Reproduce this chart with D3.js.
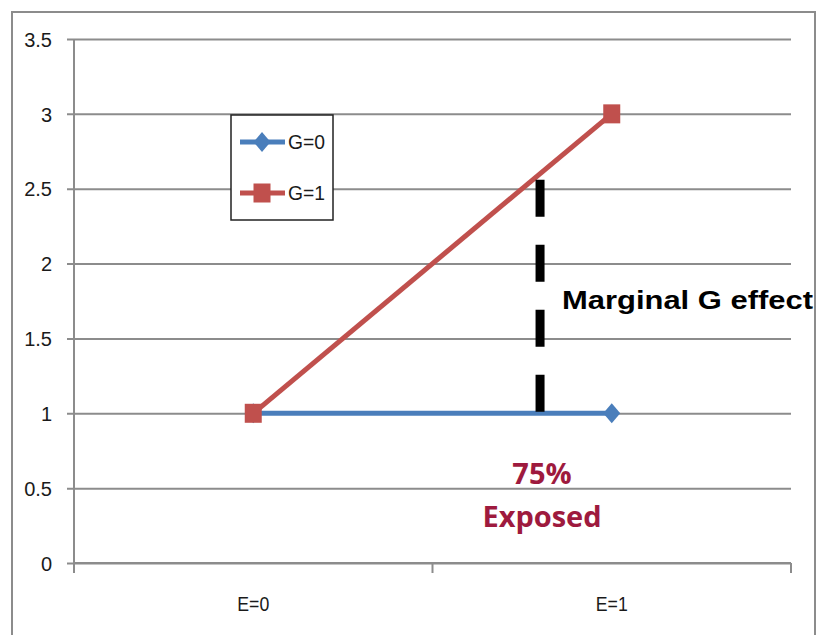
<!DOCTYPE html>
<html>
<head>
<meta charset="utf-8">
<script src="https://cdn.jsdelivr.net/npm/d3@7"></script>
<style>
  html, body { margin: 0; padding: 0; background: #fff; }
  svg { display: block; }
</style>
</head>
<body>
<svg id="chart" width="822" height="635"></svg>
<script>
// ---- data ----
const categories = ["E=0", "E=1"];
const seriesNames = ["G=0", "G=1"];
const g0Values = [1, 1];
const g1Values = [1, 3];
const yTicks = [0, 0.5, 1, 1.5, 2, 2.5, 3, 3.5];
const yTickLabels = ["0", "0.5", "1", "1.5", "2", "2.5", "3", "3.5"];
const yDomain = [0, 3.5];
// marginal effect annotation: position along E (0..1) and y range
const effectE = [0.8];
const effectRange = [1, 2.56];
const effectLabel = "Marginal G effect";
const exposedLabel = ["75%", "Exposed"];

const colors = { "G=0": "#4A7EBB", "G=1": "#C0504D" };
const tickFont = "'Liberation Sans', Arial, sans-serif";
const tickSize = "20px";

const svg = d3.select("#chart");

// outer frame
svg.append("path")
  .attr("d", "M12,640 L12,12 L815,12 L815,640")
  .attr("fill", "none").attr("stroke", "#8c8c8c").attr("stroke-width", 2);

const plot = { left: 74, right: 791, top: 39, bottom: 563 };

const x = d3.scaleBand().domain(categories).range([plot.left, plot.right]).padding(0);
const xc = c => x(c) + x.bandwidth() / 2;
const y = d3.scaleLinear().domain(yDomain).range([plot.bottom, plot.top]);

// gridlines + y axis
const yAxis = d3.axisLeft(y).tickValues(yTicks)
  .tickSize(-(plot.right - plot.left))
  .tickFormat((d, i) => yTickLabels[i]);
const gy = svg.append("g").attr("transform", `translate(${plot.left},0)`).call(yAxis);
gy.select(".domain").remove();
gy.selectAll(".tick line").attr("stroke", "#8c8c8c").attr("stroke-width", 2)
  .attr("x1", -7);
gy.selectAll(".tick text").attr("x", -22).attr("dy", "0.36em")
  .attr("fill", "#1a1a1a").style("font-family", tickFont).style("font-size", tickSize);
// y axis line
svg.append("line").attr("x1", plot.left).attr("x2", plot.left)
  .attr("y1", plot.top).attr("y2", plot.bottom + 10)
  .attr("stroke", "#8c8c8c").attr("stroke-width", 2);

// x axis
const xAxis = d3.axisBottom(x).tickSize(0).tickPadding(0);
const gx = svg.append("g").attr("transform", `translate(0,${plot.bottom})`).call(xAxis);
gx.select(".domain").remove();
gx.selectAll(".tick text").attr("y", 41).attr("dy", "0.36em")
  .attr("fill", "#1a1a1a").style("font-family", tickFont).style("font-size", tickSize)
  .attr("textLength", 32).attr("lengthAdjust", "spacingAndGlyphs");
// x boundary ticks
const bounds = [x(categories[0]), ...categories.map(c => x(c) + x.bandwidth())];
svg.append("g").selectAll("line").data(bounds).join("line")
  .attr("x1", d => d).attr("x2", d => d)
  .attr("y1", plot.bottom).attr("y2", plot.bottom + 10)
  .attr("stroke", "#8c8c8c").attr("stroke-width", 2);
svg.append("line").attr("x1", plot.left).attr("x2", plot.right)
  .attr("y1", plot.bottom).attr("y2", plot.bottom)
  .attr("stroke", "#8c8c8c").attr("stroke-width", 2);

// series
const series = [
  { name: seriesNames[0], values: g0Values, marker: "diamond" },
  { name: seriesNames[1], values: g1Values, marker: "square" }
];
const line = d3.line().x((d, i) => xc(categories[i])).y(d => y(d));

function drawMarker(g, type, cx, cy, color) {
  if (type === "diamond") {
    g.append("path")
      .attr("d", `M${cx},${cy - 10} L${cx + 8.5},${cy} L${cx},${cy + 10} L${cx - 8.5},${cy} Z`)
      .attr("fill", color);
  } else {
    g.append("rect").attr("x", cx - 8.5).attr("y", cy - 9.5)
      .attr("width", 17).attr("height", 19).attr("fill", color);
  }
}

series.forEach(s => {
  svg.append("path").datum(s.values).attr("d", line)
    .attr("fill", "none").attr("stroke", colors[s.name]).attr("stroke-width", 5);
});
series.forEach(s => {
  const g = svg.append("g");
  s.values.forEach((v, i) => drawMarker(g, s.marker, xc(categories[i]), y(v), colors[s.name]));
});

// legend
const lg = svg.append("g");
lg.append("rect").attr("x", 231).attr("y", 115).attr("width", 102).attr("height", 105)
  .attr("fill", "#fff").attr("stroke", "#222").attr("stroke-width", 1.5);
series.forEach((s, i) => {
  const ly = 142 + i * 51;
  lg.append("line").attr("x1", 240).attr("x2", 285).attr("y1", ly).attr("y2", ly)
    .attr("stroke", colors[s.name]).attr("stroke-width", 5);
  drawMarker(lg, s.marker, 262, ly, colors[s.name]);
  lg.append("text").attr("x", 288).attr("y", ly).attr("dy", "0.36em")
    .attr("fill", "#1a1a1a").style("font-family", tickFont).style("font-size", tickSize)
    .attr("textLength", 37).attr("lengthAdjust", "spacingAndGlyphs")
    .text(s.name);
});

// marginal effect dashed line
const ex = xc(categories[0]) + effectE[0] * (xc(categories[1]) - xc(categories[0]));
svg.append("line").attr("x1", ex).attr("x2", ex)
  .attr("y1", y(effectRange[1])).attr("y2", y(effectRange[0]))
  .attr("stroke", "#000").attr("stroke-width", 9).attr("stroke-dasharray", "37,28");

svg.append("text").attr("x", 562).attr("y", 309)
  .attr("textLength", 251).attr("lengthAdjust", "spacingAndGlyphs")
  .style("font-family", "'Liberation Sans', Arial, sans-serif").style("font-weight", "bold")
  .style("font-size", "26px").attr("fill", "#000").text(effectLabel);

svg.append("g").selectAll("text").data(exposedLabel).join("text")
  .attr("x", 542).attr("y", (d, i) => 484 + i * 43)
  .attr("text-anchor", "middle")
  .style("font-family", "'Open Sans', sans-serif").style("font-weight", "bold")
  .style("font-size", "29px").attr("fill", "#9E1A3E").text(d => d);
</script>
</body>
</html>
